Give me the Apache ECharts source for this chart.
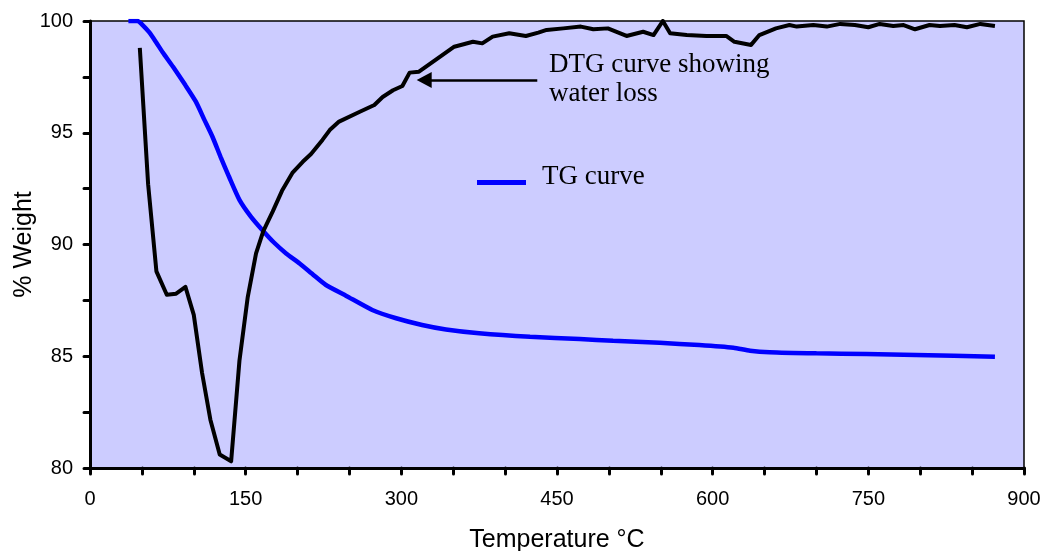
<!DOCTYPE html>
<html>
<head>
<meta charset="utf-8">
<title>TG / DTG</title>
<script src="https://cdn.jsdelivr.net/npm/echarts@6/dist/echarts.min.js"></script>
<style>
  html, body { margin: 0; padding: 0; background: #fff; }
  #chart { width: 1046px; height: 551px; }
</style>
</head>
<body>
<div id="chart"></div>
<script>
// TG curve (weight % vs temperature)
const tgTemp = [37, 46, 50, 57, 64, 70, 80, 92, 102, 110, 118, 126, 134, 144, 155, 166, 177, 189, 202, 215, 227, 247, 272, 295, 320, 343, 375, 424, 472, 504, 549, 587, 620, 636, 655, 700, 748, 796, 872]
const tgWeight = [100, 100, 99.85, 99.5, 99.03, 98.6, 97.95, 97.12, 96.39, 95.6, 94.82, 93.9, 93.03, 92.0, 91.25, 90.65, 90.1, 89.6, 89.15, 88.65, 88.2, 87.7, 87.07, 86.7, 86.4, 86.2, 86.03, 85.87, 85.77, 85.69, 85.6, 85.5, 85.38, 85.25, 85.18, 85.13, 85.1, 85.06, 84.98]

// DTG curve (scaled to the same axis)
const dtgTemp = [48, 56, 64, 74, 83, 92, 100, 108, 116, 125, 136, 144, 152, 160, 167, 176, 185, 195, 205, 213, 224, 231, 240, 260, 274, 282, 292, 301, 308, 317, 333, 351, 369, 378, 388, 404, 420, 432, 440, 456, 473, 485, 499, 517, 533, 543, 552, 559, 575, 594, 613, 621, 637, 645, 661, 674, 681, 697, 710, 723, 737, 750, 761, 774, 784, 795, 809, 819, 833, 845, 858, 872]
const dtgValue = [98.8, 92.7, 88.8, 87.75, 87.8, 88.1, 86.85, 84.25, 82.16, 80.6, 80.3, 84.8, 87.65, 89.6, 90.6, 91.47, 92.4, 93.2, 93.7, 94.05, 94.68, 95.12, 95.5, 95.94, 96.24, 96.6, 96.9, 97.09, 97.69, 97.73, 98.26, 98.85, 99.07, 99.0, 99.3, 99.45, 99.33, 99.48, 99.6, 99.67, 99.75, 99.63, 99.67, 99.33, 99.52, 99.37, 100, 99.45, 99.37, 99.33, 99.33, 99.07, 98.93, 99.37, 99.67, 99.82, 99.75, 99.82, 99.75, 99.87, 99.82, 99.72, 99.87, 99.78, 99.82, 99.63, 99.82, 99.78, 99.82, 99.72, 99.87, 99.78]

const xTicks = [0, 150, 300, 450, 600, 750, 900]
const yTicks = [80, 85, 90, 95, 100]

// arrow pointing at the DTG curve (data coords)
const arrowFrom = [431, 97.36]
const arrowTo = [322, 97.36]

const sans = 'Arial, "Liberation Sans", sans-serif'
const serif = '"Times New Roman", "Liberation Serif", serif'

const zip = (xs, ys) => xs.map((x, i) => [x, ys[i]])

const tickStyle = { color: '#000', width: 3, cap: 'round' }
const axisCommon = {
    axisLine: { show: true, onZero: false, lineStyle: { color: '#000', width: 3 } },
    axisTick: { show: true, length: 6, lineStyle: tickStyle },
    splitLine: { show: false },
    nameMoveOverlap: false,
}

const chart = echarts.init(document.getElementById('chart'))
chart.setOption({
    animation: false,
    backgroundColor: '#fff',
    grid: {
        left: 90, right: 22, top: 21, bottom: 83,
        outerBoundsMode: 'none',
        containLabel: false,
        show: true,
        backgroundColor: '#CCCCFF',
        borderColor: '#000',
        borderWidth: 1.5,
    },
    legend: {
        data: ['TG curve'],
        left: 477,
        top: 163,
        padding: 0,
        icon: 'rect',
        itemWidth: 49,
        itemHeight: 5,
        formatter: '{t|{name}}',
        textStyle: {
            fontFamily: serif, fontSize: 27, color: '#000',
            rich: { t: { fontFamily: serif, fontSize: 27, color: '#000', padding: [0, 0, 12, 11] } },
        },
    },
    xAxis: {
        type: 'value',
        min: xTicks[0],
        max: xTicks[xTicks.length - 1],
        interval: 150,
        ...axisCommon,
        minorTick: { show: true, splitNumber: 3, length: 6, lineStyle: tickStyle },
        axisLabel: { fontFamily: sans, fontSize: 20, color: '#000', margin: 21 },
        name: 'Temperature °C',
        nameLocation: 'middle',
        nameGap: 60,
        nameTextStyle: { fontFamily: sans, fontSize: 25, color: '#000' },
    },
    yAxis: {
        type: 'value',
        min: yTicks[0],
        max: yTicks[yTicks.length - 1],
        interval: 5,
        ...axisCommon,
        minorTick: { show: true, splitNumber: 2, length: 6, lineStyle: tickStyle },
        axisLabel: { fontFamily: sans, fontSize: 20, color: '#000', margin: 17 },
        name: '% Weight',
        nameLocation: 'middle',
        nameGap: 53,
        nameTextStyle: { fontFamily: sans, fontSize: 25, color: '#000' },
    },
    graphic: [
        {
            type: 'text',
            left: 549,
            top: 50,
            style: {
                text: 'DTG curve showing\nwater loss',
                font: '27px ' + serif,
                fill: '#000',
                lineHeight: 29,
            },
        },
    ],
    series: [
        {
            name: 'TG curve',
            type: 'line',
            data: zip(tgTemp, tgWeight),
            showSymbol: false,
            smooth: 0.2,
            itemStyle: { color: '#0000FF' },
            lineStyle: { color: '#0000FF', width: 4.5 },
        },
        {
            name: 'DTG curve',
            type: 'line',
            data: zip(dtgTemp, dtgValue),
            showSymbol: false,
            itemStyle: { color: '#000' },
            lineStyle: { color: '#000', width: 4, join: 'round' },
            markLine: {
                silent: true,
                symbol: ['none', 'triangle'],
                symbolSize: [16, 15],
                label: { show: false },
                lineStyle: { color: '#000', width: 2.5, type: 'solid' },
                data: [[{ coord: arrowFrom }, { coord: arrowTo }]],
            },
        },
    ],
})
</script>
</body>
</html>
